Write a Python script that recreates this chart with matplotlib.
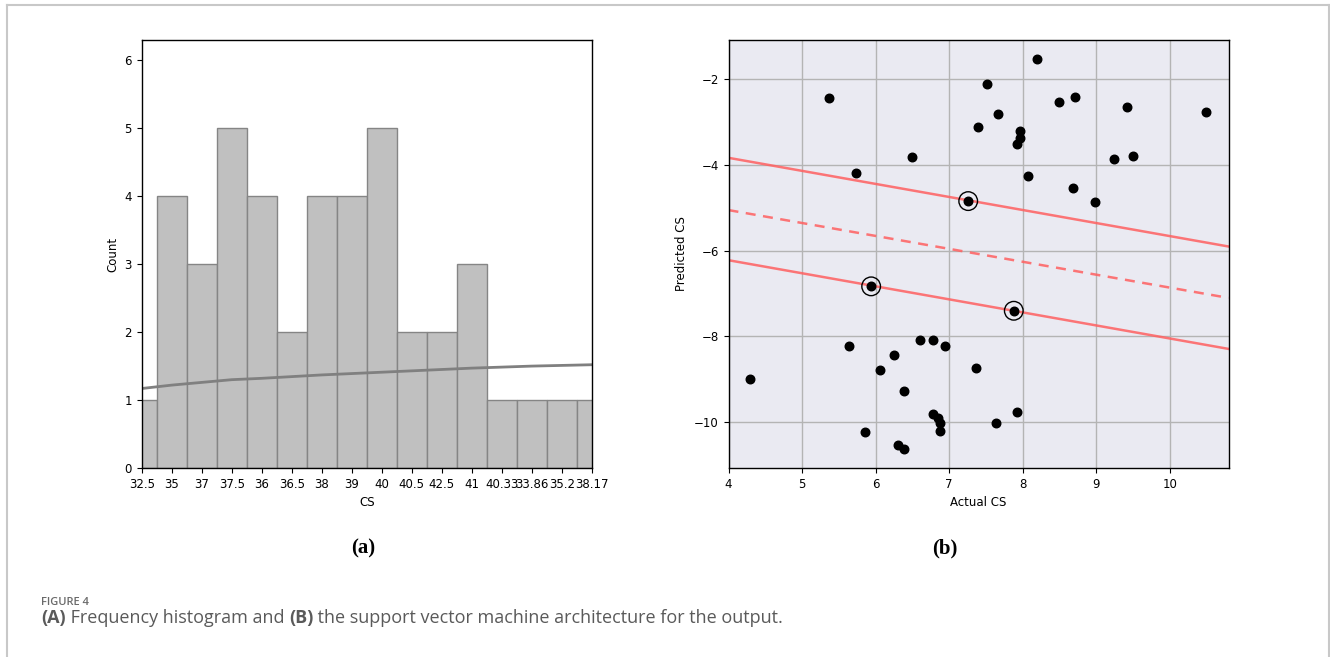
import matplotlib
matplotlib.use("Agg")
import matplotlib.pyplot as plt
from matplotlib.lines import Line2D
import numpy as np

# ---------------- data ----------------
hist_labels = ["32.5", "35", "37", "37.5", "36", "36.5", "38", "39", "40",
               "40.5", "42.5", "41", "40.33", "33.86", "35.2", "38.17"]
hist_counts = [1, 4, 3, 5, 4, 2, 4, 4, 5, 2, 2, 3, 1, 1, 1, 1]
kde_values = [1.17, 1.22, 1.26, 1.30, 1.32, 1.345, 1.37, 1.39, 1.41,
              1.43, 1.45, 1.47, 1.485, 1.50, 1.51, 1.52]

actual_cs = [5.37, 5.73, 6.50, 7.52, 7.39, 7.67, 7.97, 7.97, 7.93, 8.20,
             8.07, 8.49, 8.71, 8.69, 8.99, 9.24, 9.42, 9.50, 10.49,
             7.26, 5.94, 7.88,
             4.29, 5.64, 5.86, 6.06, 6.25, 6.30, 6.38, 6.39, 6.60, 6.78,
             6.95, 6.78, 6.85, 6.88, 6.88, 7.36, 7.64, 7.93]
predicted_cs = [-2.43, -4.19, -3.81, -2.10, -3.11, -2.81, -3.21, -3.36, -3.51, -1.53,
                -4.25, -2.53, -2.40, -4.54, -4.87, -3.86, -2.64, -3.78, -2.75,
                -4.84, -6.83, -7.40,
                -9.00, -8.22, -10.22, -8.79, -8.43, -10.54, -10.63, -9.27, -8.09, -8.09,
                -8.22, -9.81, -9.90, -10.03, -10.20, -8.73, -10.03, -9.76]
sv_actual = [7.26, 5.94, 7.88]
sv_predicted = [-4.84, -6.83, -7.40]

line_x = [4.0, 10.8]
decision_y = [-5.05, -7.10]
upper_margin_y = [-3.83, -5.90]
lower_margin_y = [-6.22, -8.29]

# ---------------- figure ----------------
W, H = 1330, 657
fig = plt.figure(figsize=(W / 100, H / 100), dpi=100)
fig.patch.set_facecolor("white")

def ax_rect(x0, y0, x1, y1):
    return [x0 / W, 1 - y1 / H, (x1 - x0) / W, (y1 - y0) / H]

tick_fs = 8.5

# ---- (a) histogram ----
ax1 = fig.add_axes(ax_rect(141.7, 40, 591.7, 468))
pos = np.arange(len(hist_counts))
ax1.bar(pos, hist_counts, width=1.0, align="center", color="#c0c0c0",
        edgecolor="#858585", linewidth=1.0)
ax1.plot(pos, kde_values, color="#808080", linewidth=2)
ax1.set_xlim(0, len(hist_counts) - 1)
ax1.set_ylim(0, 6.3)
ax1.set_xticks(pos)
ax1.set_xticklabels(hist_labels, fontsize=tick_fs)
ax1.set_yticks(range(0, 7))
ax1.tick_params(axis="y", labelsize=tick_fs)
ax1.set_xlabel("CS", fontsize=tick_fs)
ax1.set_ylabel("Count", fontsize=tick_fs)
for s in ax1.spines.values():
    s.set_color("black")
    s.set_linewidth(1.0)

# ---- (b) SVM plot ----
ax2 = fig.add_axes(ax_rect(728.5, 40, 1228.5, 468))
ax2.set_facecolor("#eaeaf2")
ax2.grid(True, color="#b4b4b4", linewidth=1.0)
ax2.set_axisbelow(True)
ax2.plot(line_x, upper_margin_y, color="#ff6060", alpha=0.85, linewidth=1.8)
ax2.plot(line_x, decision_y, color="#ff6060", alpha=0.85, linewidth=1.8,
         linestyle=(0, (4, 3)))
ax2.plot(line_x, lower_margin_y, color="#ff6060", alpha=0.85, linewidth=1.8)
ax2.scatter(actual_cs, predicted_cs, s=38, color="black", zorder=3)
ax2.scatter(sv_actual, sv_predicted, s=180, facecolors="none",
            edgecolors="black", linewidths=1.0, zorder=4)
ax2.set_xlim(4, 10.8)
ax2.set_ylim(-11.07, -1.08)
ax2.set_xticks([4, 5, 6, 7, 8, 9, 10])
ax2.set_yticks([-10, -8, -6, -4, -2])
ax2.set_yticklabels(["\u221210", "\u22128", "\u22126", "\u22124", "\u22122"])
ax2.tick_params(labelsize=tick_fs)
ax2.set_xlabel("Actual CS", fontsize=tick_fs)
ax2.set_ylabel("Predicted CS", fontsize=tick_fs)
for s in ax2.spines.values():
    s.set_color("black")
    s.set_linewidth(1.0)

# ---- panel labels ----
fig.text(363 / W, 1 - 548 / H, "(a)", fontsize=15, fontweight="bold",
         family="Liberation Serif", ha="center", va="center")
fig.text(945 / W, 1 - 548 / H, "(b)", fontsize=15, fontweight="bold",
         family="Liberation Serif", ha="center", va="center")

# ---- caption ----
cap_color = "#5a5a5a"
cap_fs = 13
fig.text(41 / W, 1 - 605 / H, "FIGURE 4", fontsize=8.0, fontweight="semibold",
         family="Open Sans", color="#6a6a6a", ha="left", va="baseline")
t1 = fig.text(41 / W, 1 - 623 / H, "(A)", fontsize=cap_fs, fontweight="bold",
              family="Open Sans", color=cap_color, ha="left", va="baseline")
fig.canvas.draw()
r = fig.canvas.get_renderer()

def place_after(prev, txt, bold):
    bb = prev.get_window_extent(renderer=r)
    return fig.text(bb.x1 / W, 1 - 623 / H, txt, fontsize=cap_fs,
                    fontweight="bold" if bold else "normal",
                    family="Open Sans", color=cap_color, ha="left", va="baseline")

t2 = place_after(t1, " Frequency histogram and ", False)
t3 = place_after(t2, "(B)", True)
t4 = place_after(t3, " the support vector machine architecture for the output.", False)

# ---- outer frame (left, top, right) ----
frame_c = "#c8c8c8"
fig.add_artist(Line2D([6.5 / W, 6.5 / W], [0, 1 - 5 / H], color=frame_c, linewidth=1.5,
                      transform=fig.transFigure))
fig.add_artist(Line2D([6.5 / W, 1328.5 / W], [1 - 5 / H, 1 - 5 / H], color=frame_c,
                      linewidth=1.5, transform=fig.transFigure))
fig.add_artist(Line2D([1328.5 / W, 1328.5 / W], [0, 1 - 5 / H], color=frame_c,
                      linewidth=1.5, transform=fig.transFigure))

fig.savefig("out.png", dpi=100)
